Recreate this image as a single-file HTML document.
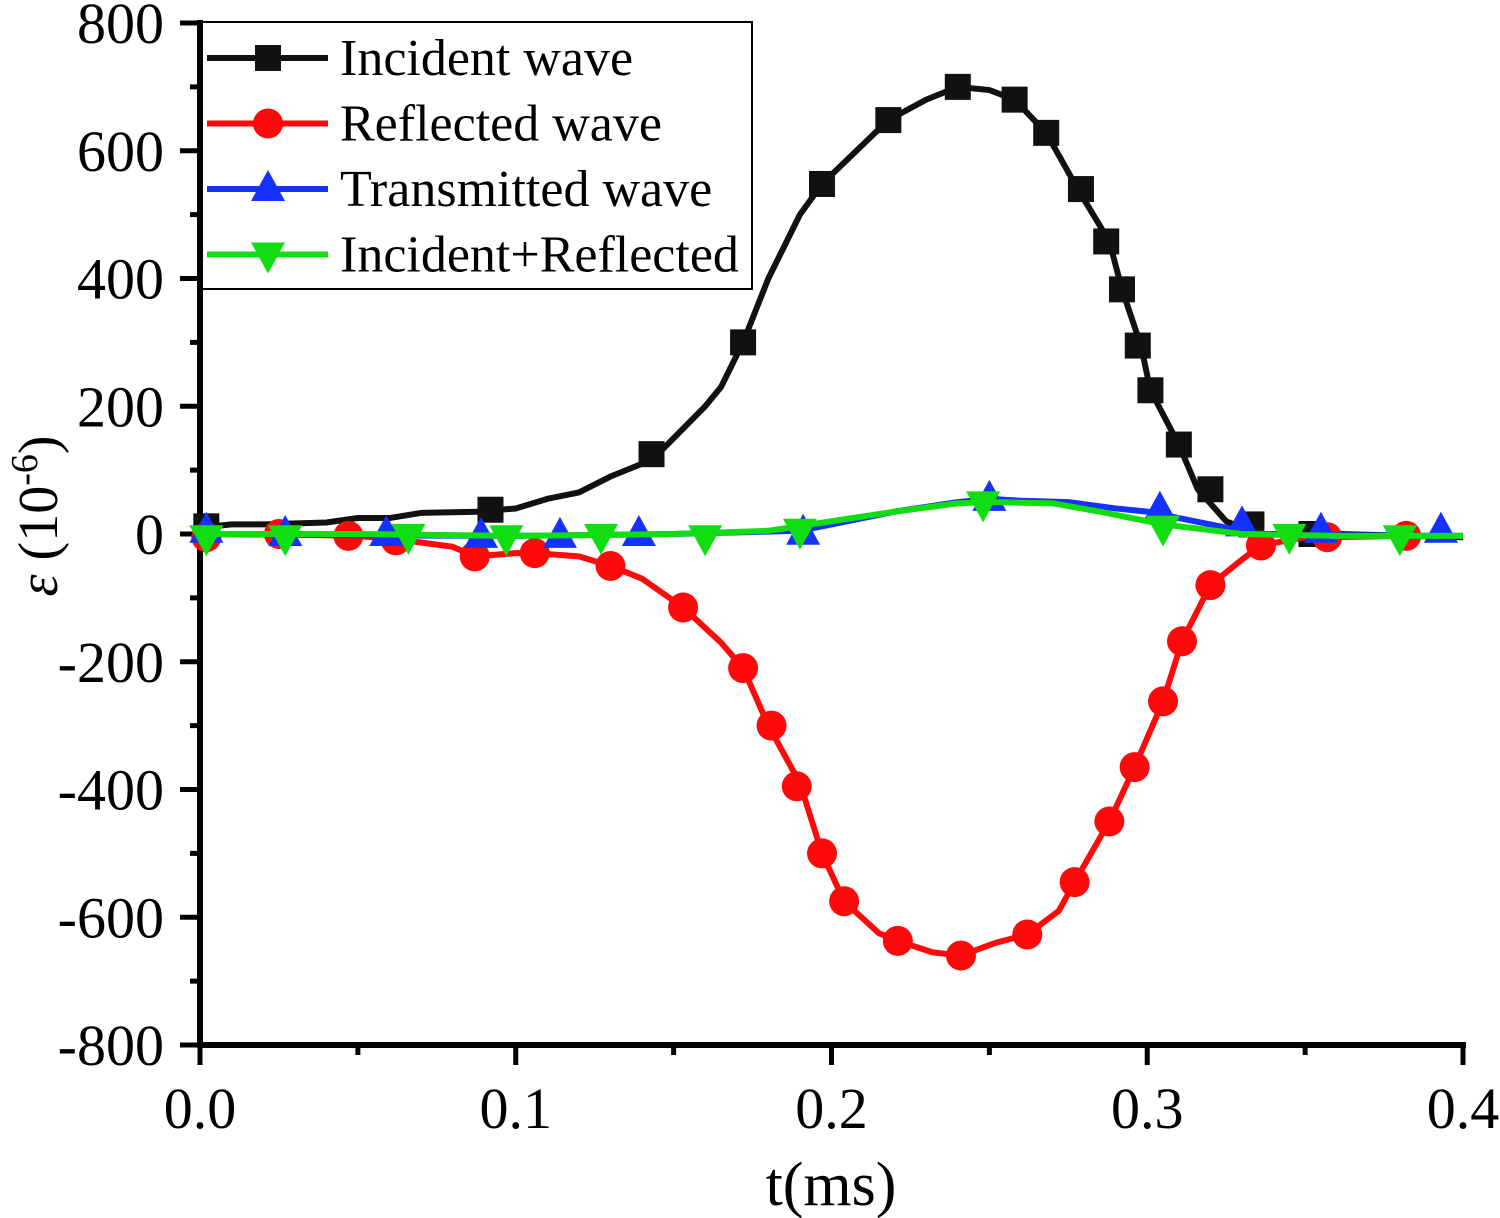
<!DOCTYPE html>
<html><head><meta charset="utf-8"><style>
body{margin:0;background:#fff;}
svg{display:block;font-family:"Liberation Serif",serif;}
</style></head><body>
<svg id="chart" width="1500" height="1218" viewBox="0 0 1500 1218"></svg>
<script>
const incT=[0,0.01,0.02,0.04,0.05,0.06,0.07,0.09,0.095,0.1,0.11,0.12,0.13,0.14,0.145,0.155,0.16,0.165,0.172,0.18,0.19,0.197,0.21,0.218,0.23,0.24,0.25,0.258,0.268,0.278,0.288,0.292,0.298,0.301,0.31,0.316,0.325,0.335,0.36,0.4];
const incV=[10,15,15,18,25,25,33,35,38,40,55,65,90,110,125,175,200,230,300,400,500,548,610,648,680,700,695,680,628,540,458,383,295,225,140,70,20,0,0,-5];
const incMT=[0.002,0.092,0.143,0.172,0.197,0.218,0.24,0.258,0.268,0.279,0.287,0.292,0.297,0.301,0.31,0.32,0.333,0.352];
const incMV=[12,38,125,300,548,648,700,680,628,540,458,383,295,225,140,70,15,0];
const refT=[0,0.02,0.05,0.065,0.08,0.087,0.1,0.106,0.12,0.13,0.14,0.153,0.165,0.172,0.18,0.19,0.197,0.204,0.215,0.221,0.232,0.241,0.252,0.262,0.272,0.277,0.288,0.296,0.305,0.311,0.32,0.33,0.336,0.35,0.357,0.38,0.4];
const refV=[0,0,-3,-10,-20,-35,-30,-30,-35,-50,-70,-115,-170,-210,-300,-390,-500,-575,-625,-637,-655,-660,-640,-627,-590,-545,-450,-365,-262,-168,-80,-40,-18,-5,-5,-3,-3];
const refMT=[0.002,0.025,0.047,0.062,0.087,0.106,0.13,0.153,0.172,0.181,0.189,0.197,0.204,0.221,0.241,0.262,0.277,0.288,0.296,0.305,0.311,0.32,0.336,0.357,0.382];
const refMV=[-5,0,-3,-10,-35,-30,-50,-115,-210,-300,-395,-500,-575,-637,-660,-627,-545,-450,-365,-262,-168,-80,-18,-5,-3];
const traT=[0,0.05,0.1,0.15,0.19,0.2,0.21,0.22,0.24,0.25,0.26,0.275,0.29,0.3,0.31,0.32,0.335,0.36,0.4];
const traV=[0,-2,-3,0,5,15,25,35,50,55,52,50,40,35,25,15,0,-2,-3];
const traMT=[0.002,0.027,0.059,0.089,0.114,0.139,0.191,0.25,0.304,0.33,0.355,0.393];
const traMV=[5,0,0,-3,-3,0,2,55,38,15,5,5];
const sumT=[0,0.05,0.1,0.15,0.18,0.2,0.22,0.24,0.25,0.27,0.285,0.305,0.33,0.36,0.4];
const sumV=[0,0,-3,0,5,20,35,48,50,48,35,15,0,-3,-3];
const sumMT=[0.002,0.027,0.066,0.097,0.127,0.16,0.19,0.248,0.305,0.345,0.38];
const sumMV=[-5,-5,-3,-5,-3,-5,5,48,10,-3,-5];
const yTicks=[800,600,400,200,0,-200,-400,-600,-800];
const xTicks=[0.0,0.1,0.2,0.3,0.4];

const X0=200,X1=1463,Y0=23,Y1=1045;
const xs=t=>X0+(t-0)/0.4*(X1-X0);
const ys=v=>Y0+(800-v)/1600*(Y1-Y0);
const svg=document.getElementById('chart');
const NS='http://www.w3.org/2000/svg';
function mk(tag,attrs,parent){const e=document.createElementNS(NS,tag);for(const k in attrs)e.setAttribute(k,attrs[k]);(parent||svg).appendChild(e);return e;}

const ax=mk('g',{});


mk('line',{x1:X0,y1:Y0-3,x2:X0,y2:Y1+3,stroke:'#000','stroke-width':6},ax);
mk('line',{x1:X0-3,y1:Y1,x2:X1+3,y2:Y1,stroke:'#000','stroke-width':6},ax);
for(let v=-800;v<=800;v+=100){const major=v%200===0;mk('line',{x1:X0-(major?20:10),x2:X0,y1:ys(v),y2:ys(v),stroke:'#000','stroke-width':5},ax);}
for(let i=0;i<=8;i++){const t=i*0.05;const major=i%2===0;mk('line',{x1:xs(t),x2:xs(t),y1:Y1,y2:Y1+(major?20:10),stroke:'#000','stroke-width':5},ax);}
yTicks.forEach(v=>{const e=mk('text',{x:164,y:ys(v)+20,'text-anchor':'end','font-size':58},ax);e.textContent=v;

});
xTicks.forEach(t=>{const e=mk('text',{x:xs(t),y:1128,'text-anchor':'middle','font-size':58},ax);e.textContent=t.toFixed(1);

});
const xt=mk('text',{x:831,y:1205,'text-anchor':'middle','font-size':62});xt.textContent='t(ms)';


const yt=mk('text',{x:0,y:0,transform:'translate(57,516) rotate(-90)','text-anchor':'middle','font-size':56});
yt.innerHTML='<tspan font-style="italic">ε</tspan> (10<tspan dy="-20" font-size="38">-6</tspan><tspan dy="20">)</tspan>';



function marker(type,x,y,color,g){
 if(type==='sq')mk('rect',{x:x-13,y:y-13,width:26,height:26,fill:color},g);
 else if(type==='ci')mk('circle',{cx:x,cy:y,r:15,fill:color},g);
 else if(type==='up')mk('polygon',{points:`${x},${y-19} ${x-17},${y+12} ${x+17},${y+12}`,fill:color},g);
 else mk('polygon',{points:`${x},${y+19} ${x-17},${y-12} ${x+17},${y-12}`,fill:color},g);
}
function series(name,T,V,MT,MV,color,type){
 const g=mk('g',{});
 
 
 mk('polyline',{points:T.map((t,i)=>xs(t)+','+ys(V[i])).join(' '),fill:'none',stroke:color,'stroke-width':6,'stroke-linejoin':'round'},g);
 MT.forEach((t,i)=>marker(type,xs(t),ys(MV[i]),color,g));
}
series('incident-wave-series',incT,incV,incMT,incMV,'#111','sq');
series('reflected-wave-series',refT,refV,refMT,refMV,'#ff0a0a','ci');
series('transmitted-wave-series',traT,traV,traMT,traMV,'#1530ff','up');
series('incident-plus-reflected-series',sumT,sumV,sumMT,sumMV,'#12dd12','dn');

const lg=mk('g',{});


mk('rect',{x:202,y:22,width:550,height:267,fill:'#fff',stroke:'#000','stroke-width':2},lg);
const items=[['Incident wave','#111','sq'],['Reflected wave','#ff0a0a','ci'],['Transmitted wave','#1530ff','up'],['Incident+Reflected','#12dd12','dn']];
items.forEach((it,i)=>{const y=58+i*65.5;const g=mk('g',{},lg);
 
 
 mk('line',{x1:207,x2:328,y1:y,y2:y,stroke:it[1],'stroke-width':6},g);
 marker(it[2],268,y,it[1],g);
 const t=mk('text',{x:340,y:y+17,'font-size':52,textLength:0},g);t.removeAttribute('textLength');t.textContent=it[0];});
</script>
</body></html>
